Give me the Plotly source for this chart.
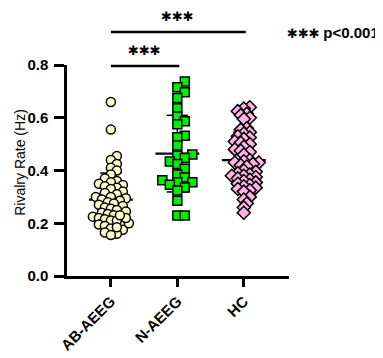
import numpy as np
import plotly.graph_objects as go

# ---- data ----
categories = ["AB-AEEG", "N-AEEG", "HC"]
ab_aeeg = [0.66, 0.555, 0.455, 0.44, 0.425, 0.41, 0.40, 0.385, 0.37, 0.36,
           0.355, 0.35, 0.345, 0.34, 0.335, 0.33, 0.32, 0.315, 0.31, 0.30,
           0.30, 0.295, 0.29, 0.285, 0.28, 0.275, 0.27, 0.265, 0.26, 0.255,
           0.25, 0.245, 0.24, 0.235, 0.23, 0.225, 0.22, 0.215, 0.21, 0.20,
           0.195, 0.19, 0.18, 0.175, 0.165, 0.16, 0.155, 0.20, 0.21, 0.22,
           0.23, 0.185]
n_aeeg = [0.737, 0.716, 0.697, 0.675, 0.636, 0.605, 0.587, 0.575, 0.532, 0.526,
          0.495, 0.461, 0.456, 0.447, 0.434, 0.425, 0.407, 0.385, 0.373, 0.363,
          0.355, 0.355, 0.346, 0.336, 0.324, 0.285, 0.229, 0.229]
hc = [0.64, 0.635, 0.625, 0.615, 0.61, 0.60, 0.595,
      0.56, 0.555, 0.545, 0.54, 0.53, 0.525, 0.52, 0.51, 0.505, 0.50, 0.49,
      0.48, 0.475, 0.47, 0.46,
      0.44, 0.435, 0.43, 0.43, 0.425, 0.42, 0.415,
      0.40, 0.395, 0.39, 0.385, 0.38, 0.38, 0.375, 0.37, 0.365, 0.36, 0.355, 0.35,
      0.345, 0.34, 0.335, 0.33, 0.325, 0.32,
      0.30, 0.29, 0.275, 0.26, 0.24]
y_ticks = [0.0, 0.2, 0.4, 0.6, 0.8]
comparisons = [(0, 1, "✱✱✱"), (0, 2, "✱✱✱")]
legend_stars = "✱✱✱"
legend_text = "p<0.001"

W, H = 383, 358
PL, PR, PT, PB = 59, 281, 57, 275          # plot area in pixels
ML, MR, MT, MB = PL, W - PR, PT, H - PB
X_RANGE = [-0.66, 2.68]
Y_RANGE = [0, 0.8]
PW = PR - PL
PH = PB - PT
ppu_x = PW / (X_RANGE[1] - X_RANGE[0])
ppu_y = PH / (Y_RANGE[1] - Y_RANGE[0])


def px_to_paper_x(px):
    return (px - PL) / PW


def px_to_paper_y(py):
    return (PB - py) / PH


def swarm(vals, min_d, step):
    order = sorted(range(len(vals)), key=lambda i: vals[i])
    placed, offs = [], [0.0] * len(vals)
    cands = [0.0] + [s * m * step for m in range(1, 40) for s in (1, -1)]
    for i in order:
        y = vals[i] * ppu_y
        for c in cands:
            if all((c - px) ** 2 + (y - py) ** 2 >= min_d ** 2 for px, py in placed):
                break
        placed.append((c, y))
        offs[i] = c / ppu_x
    return offs


groups = [
    (ab_aeeg, dict(symbol="circle", size=9, color="#FFFFCC"), 6.0, 3.0),
    (n_aeeg, dict(symbol="square", size=9, color="#00EE00"), 7.5, 7.5),
    (hc, dict(symbol="diamond", size=10, color="#FFB3E6"), 5.0, 3.0),
]

fig = go.Figure()
# mean +/- SD lines (drawn beneath the points)
for gi, (vals, mk, md, st) in enumerate(groups):
    m = float(np.mean(vals)); sd = float(np.std(vals, ddof=1))
    fig.add_trace(go.Scatter(x=[gi - 0.33, gi + 0.33], y=[m, m], mode="lines",
                             line=dict(color="black", width=2.2), showlegend=False, hoverinfo="skip"))
    for yy in (m - sd, m + sd):
        fig.add_trace(go.Scatter(x=[gi - 0.16, gi + 0.16], y=[yy, yy], mode="lines",
                                 line=dict(color="black", width=1.5), showlegend=False, hoverinfo="skip"))
    fig.add_trace(go.Scatter(x=[gi, gi], y=[m - sd, m + sd], mode="lines",
                             line=dict(color="black", width=1.5), showlegend=False, hoverinfo="skip"))

for gi, (vals, mk, md, st) in enumerate(groups):
    offs = swarm(vals, md, st)
    fig.add_trace(go.Scatter(
        x=[gi + o for o in offs], y=vals, mode="markers",
        marker=dict(symbol=mk["symbol"], size=mk["size"], color=mk["color"],
                    line=dict(color="black", width=1.5)),
        cliponaxis=False, showlegend=False, hoverinfo="y"))

FONT = "Arial, Liberation Sans, sans-serif"
bar_y = {1: px_to_paper_y(58), 2: px_to_paper_y(23)}
for a, b, txt in comparisons:
    yb = bar_y[b]
    fig.add_shape(type="line", xref="x", yref="paper", x0=a, x1=b + 0.03, y0=yb, y1=yb,
                  line=dict(color="black", width=2.5))
    fig.add_annotation(x=(a + b) / 2, y=yb + 0.03, xref="x", yref="paper", text=txt,
                       showarrow=False, yanchor="bottom", xanchor="center",
                       font=dict(family="DejaVu Sans", size=13, color="black", weight="bold"))

fig.add_annotation(x=px_to_paper_x(277), y=bar_y[2], xref="paper", yref="paper",
                   text=(f"<span style='font-family:DejaVu Sans'>{legend_stars}</span> "
                         f"<span style='font-family:Arial, Liberation Sans;font-size:15px'>{legend_text}</span>"),
                   showarrow=False, xanchor="left", yanchor="middle",
                   font=dict(family=FONT, size=13, color="black", weight="bold"))

fig.add_annotation(x=px_to_paper_x(12), y=px_to_paper_y(158), xref="paper", yref="paper",
                   text="Rivalry Rate (Hz)", textangle=-90, showarrow=False,
                   xanchor="center", yanchor="middle",
                   font=dict(family=FONT, size=14, color="black"))

fig.update_layout(
    width=W, height=H, margin=dict(l=ML, r=MR, t=MT, b=MB, pad=0),
    plot_bgcolor="white", paper_bgcolor="white",
    xaxis=dict(range=X_RANGE, tickmode="array", tickvals=list(range(len(categories))),
               ticktext=categories, tickangle=-45, ticks="outside", ticklen=8, tickwidth=2.5,
               tickcolor="black", showline=True, linecolor="black", linewidth=2.5,
               showgrid=False, zeroline=False,
               tickfont=dict(family=FONT, size=15, color="black", weight="bold")),
    yaxis=dict(range=Y_RANGE, tickmode="array", tickvals=y_ticks,
               ticktext=[f"{v:.1f}" for v in y_ticks], ticks="outside", ticklen=10, tickwidth=2.5,
               tickcolor="black", showline=True, linecolor="black", linewidth=2.5,
               showgrid=False, zeroline=False, ticklabelstandoff=3,
               tickfont=dict(family=FONT, size=15, color="black", weight="bold")),
)

fig.write_html("out.html")
